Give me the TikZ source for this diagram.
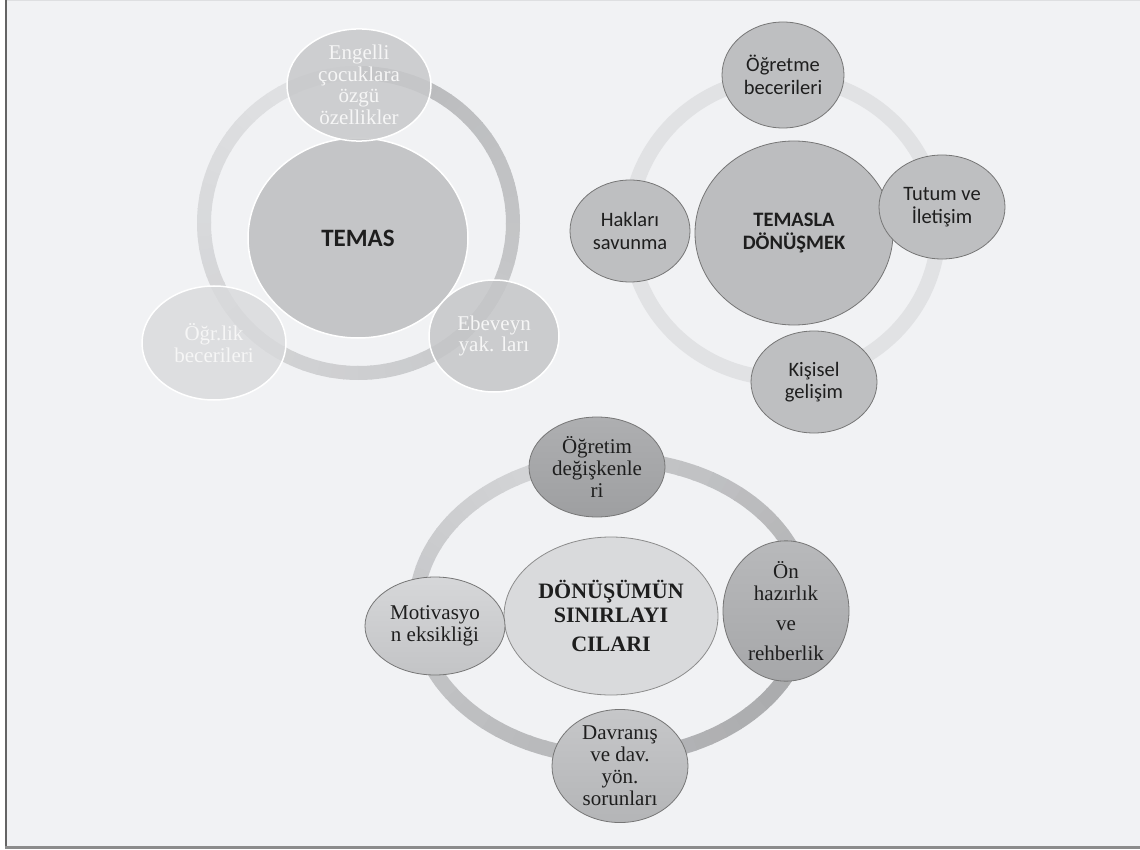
\documentclass[tikz,border=0pt]{standalone}
\usepackage{fontspec}
\setmainfont{Liberation Serif}
\newfontfamily\calfont{Carlito}
\usetikzlibrary{shapes.geometric}
\definecolor{bg}{HTML}{F1F2F4}
\definecolor{ringAdark}{HTML}{B9BABC}
\definecolor{ringAlight}{HTML}{E3E4E6}
\definecolor{ringB}{HTML}{E1E2E4}
\definecolor{ringCa}{HTML}{C6C7C9}
\definecolor{ringCb}{HTML}{A9AAAC}
\definecolor{ringCc}{HTML}{D8D9DB}
\definecolor{paletext}{HTML}{F6F6F6}
\definecolor{darktext}{HTML}{1E1E1E}
\definecolor{nodeedge}{HTML}{767676}
\tikzset{
  ghost/.style={ellipse, draw=white, line width=1.5pt, inner sep=0pt, align=center,
    text=paletext, font=\fontsize{21}{21.5}\selectfont},
  grey2/.style={ellipse, draw=nodeedge, line width=0.8pt, fill={rgb,255:red,190;green,191;blue,193},
    inner sep=0pt, align=center, text=darktext, font=\calfont\fontsize{20.5}{22.5}\selectfont},
  grey3/.style={ellipse, draw=nodeedge, line width=0.8pt, inner sep=0pt, align=center,
    text=darktext, font=\fontsize{21}{22}\selectfont},
}
\begin{document}
\begin{tikzpicture}[x=1pt,y=-1pt]
\useasboundingbox (0,0) rectangle (1140,850);
\fill[white] (0,0) rectangle (1140,850);
\fill[bg] (6,0) rectangle (1140,847);
\draw[line width=1pt, color={rgb,255:red,222;green,223;blue,225}] (6,0.5) -- (1140,0.5);
\draw[line width=1.6pt, color={rgb,255:red,100;green,100;blue,100}] (6,0) -- (6,848);
\draw[line width=2.5pt, color={rgb,255:red,140;green,140;blue,140}] (5,847.5) -- (1140,847.5);

% ---------- Diagram 1: TEMAS ----------
\foreach \a in {-90,-85,...,265} {
  \pgfmathtruncatemacro\tv{(\a+90)/360*100}
  \colorlet{rc}{ringAlight!\tv!ringAdark}
  \draw[rc, line width=14pt] (358.5,223) ++(\a:154.5 and 150)
    arc[start angle=\a, end angle=\a+5.5, x radius=154.5, y radius=150];
}
\node[ellipse, draw=white, line width=1.5pt, fill={rgb,255:red,196;green,197;blue,199},
  minimum width=220pt, minimum height=200pt, inner sep=0pt,
  font=\calfont\bfseries\fontsize{25}{27}\selectfont, text=darktext] (temas) at (358,238) {TEMAS};
\node[ghost, fill={rgb,255:red,199;green,200;blue,202}, fill opacity=0.85, text opacity=1,
  minimum width=144pt, minimum height=100pt] (ozellik) at (359,85)
  {Engelli\\çocuklara\\özgü\\özellikler};
\node[ghost, fill={rgb,255:red,197;green,198;blue,200}, fill opacity=0.85, text opacity=1,
  minimum width=130pt, minimum height=112pt] (ebeveyn) at (494,336) {Ebeveyn\\yak. ları};
\node[ghost, fill={rgb,255:red,217;green,218;blue,220}, fill opacity=0.8, text opacity=1,
  minimum width=144pt, minimum height=114pt] (ogrlik) at (214,343) {Öğr.lik\\becerileri};

% ---------- Diagram 2: TEMASLA DÖNÜŞMEK ----------
\draw[ringB, line width=15pt] (784,228) ellipse [x radius=154.5, y radius=150.5];
\node[grey2, fill={rgb,255:red,188;green,189;blue,191}, minimum width=198pt, minimum height=184pt,
  font=\calfont\bfseries\fontsize{20.5}{22.5}\selectfont] (donus) at (794,233) {TEMASLA\\DÖNÜŞMEK};
\node[grey2, minimum width=122pt, minimum height=106pt] (ogretme) at (783,75) {Öğretme\\becerileri};
\node[grey2, minimum width=126pt, minimum height=104pt] (tutum) at (942,207) {Tutum ve\\İletişim};
\node[grey2, minimum width=120pt, minimum height=102pt] (haklar) at (630,231) {Hakları\\savunma};
\node[grey2, minimum width=126pt, minimum height=102pt] (kisisel) at (814,382) {Kişisel\\gelişim};

% ---------- Diagram 3: DÖNÜŞÜMÜN SINIRLAYICILARI ----------
\foreach \a in {-90,-85,...,265} {
  \pgfmathtruncatemacro\tv{(\a+90)/360*100}
  \ifnum\tv<30
    \pgfmathtruncatemacro\pv{\tv/30*100}
    \colorlet{rc}{ringCb!\pv!ringCa}
  \else
    \pgfmathtruncatemacro\pv{(\tv-30)/70*100}
    \colorlet{rc}{ringCc!\pv!ringCb}
  \fi
  \draw[rc, line width=15pt] (612,608) ++(\a:196 and 149)
    arc[start angle=\a, end angle=\a+5.5, x radius=196, y radius=149];
}
\node[grey3, draw={rgb,255:red,140;green,140;blue,140}, fill={rgb,255:red,217;green,218;blue,220},
  minimum width=214pt, minimum height=158pt,
  font=\bfseries\fontsize{22}{23.5}\selectfont] (sinir) at (611,616)
  {DÖNÜŞÜMÜN\\SINIRLAYI\\[6pt]CILARI};
\node[grey3, top color={rgb,255:red,174;green,175;blue,177}, bottom color={rgb,255:red,158;green,159;blue,161},
  minimum width=136pt, minimum height=100pt] (ogretim) at (597,467) {Öğretim\\değişkenle\\ri};
\node[grey3, top color={rgb,255:red,184;green,185;blue,187}, bottom color={rgb,255:red,166;green,167;blue,169},
  minimum width=126pt, minimum height=118pt] (onhaz) at (786,611) {Ön\\hazırlık\\[8pt]ve\\[8pt]rehberlik};
\node[grey3, top color={rgb,255:red,198;green,199;blue,201}, bottom color={rgb,255:red,180;green,181;blue,183},
  minimum width=136pt, minimum height=104pt] (davranis) at (620,766) {Davranış\\ve dav.\\yön.\\sorunları};
\node[grey3, top color={rgb,255:red,214;green,215;blue,217}, bottom color={rgb,255:red,195;green,196;blue,198},
  minimum width=140pt, minimum height=98pt] (motiv) at (435,626) {Motivasyo\\n eksikliği};
\end{tikzpicture}
\end{document}
